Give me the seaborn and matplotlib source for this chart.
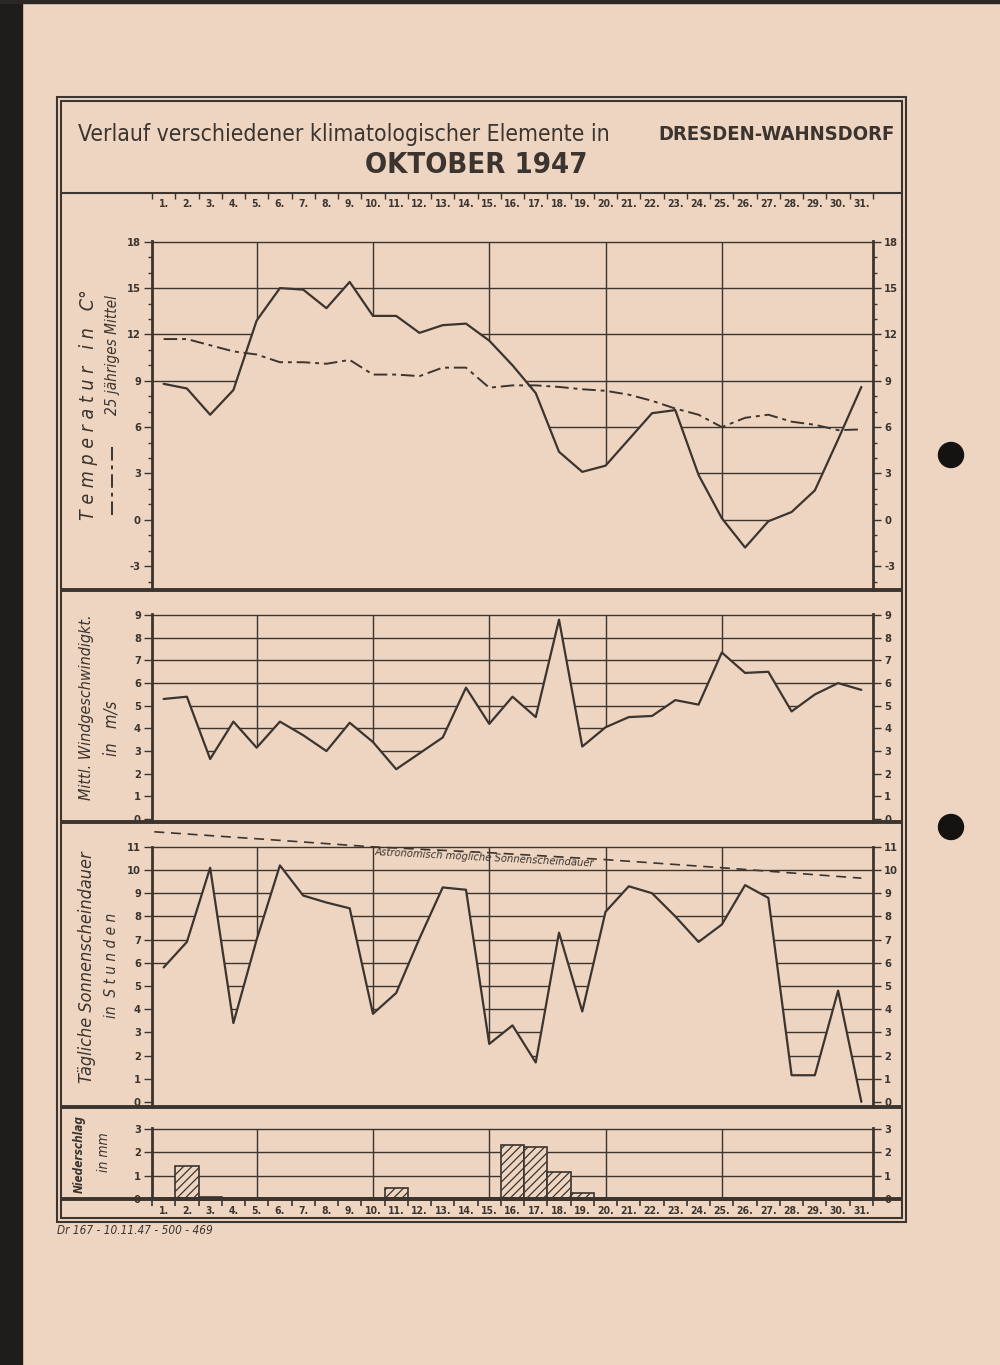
import numpy as np
import pandas as pd
import matplotlib
matplotlib.use("Agg")
import matplotlib.pyplot as plt
from matplotlib.patches import Polygon, Rectangle, Ellipse
from matplotlib.lines import Line2D
import seaborn as sns

# ---- data (Dresden-Wahnsdorf, October 1947) ----
days = list(range(1, 32))
temp = [8.8, 8.5, 6.8, 8.4, 12.9, 15.0, 14.9, 13.7, 15.4, 13.2, 13.2, 12.1, 12.6, 12.7, 11.6, 10.0,
        8.2, 4.4, 3.1, 3.5, 5.2, 6.9, 7.1, 2.9, 0.1, -1.8, -0.1, 0.5, 1.9, 5.2, 8.6]
temp_mean = [11.7, 11.7, 11.3, 10.9, 10.7, 10.2, 10.2, 10.1, 10.35, 9.4, 9.4, 9.3, 9.85, 9.85, 8.55, 8.7,
             8.7, 8.6, 8.45, 8.35, 8.1, 7.7, 7.2, 6.8, 6.0, 6.6, 6.8, 6.35, 6.15, 5.8, 5.85]
wind = [5.3, 5.4, 2.65, 4.3, 3.15, 4.3, 3.7, 3.0, 4.25, 3.4, 2.2, 2.9, 3.6, 5.8, 4.2, 5.4,
        4.5, 8.8, 3.2, 4.05, 4.5, 4.55, 5.25, 5.05, 7.35, 6.45, 6.5, 4.75, 5.5, 6.0, 5.7]
sun = [5.8, 6.9, 10.1, 3.4, 7.0, 10.2, 8.9, 8.6, 8.35, 3.8, 4.7, 7.05, 9.25, 9.15, 2.5, 3.3,
       1.7, 7.3, 3.9, 8.2, 9.3, 9.0, 8.0, 6.9, 7.65, 9.35, 8.8, 1.15, 1.15, 4.8, 0.0]
astro_days = [0.6, 5, 10, 15, 20, 25, 31]
astro_hours = [11.65, 11.35, 11.0, 10.75, 10.45, 10.1, 9.65]
precip = [0, 1.4, 0.1, 0, 0, 0, 0, 0, 0, 0, 0.45, 0, 0, 0, 0, 2.3,
          2.2, 1.15, 0.25, 0, 0, 0, 0, 0, 0, 0, 0, 0, 0, 0, 0]
grid_days = [5, 10, 15, 20, 25]
day_labels = [f"{d}." for d in days]

PAPER = "#eed5c1"
INK = "#3b342f"
W, H = 1000, 1365

sns.set_theme(style="ticks")
plt.rcParams["font.family"] = ["DejaVu Sans"]
plt.rcParams["font.stretch"] = "condensed"
plt.rcParams["hatch.color"] = INK
plt.rcParams["hatch.linewidth"] = 0.9


def rect(x0, y0, x1, y1):
    return [x0 / W, 1 - y1 / H, (x1 - x0) / W, (y1 - y0) / H]


def fig_line(fig, x0, y0, x1, y1, lw):
    fig.add_artist(Line2D([x0 / W, x1 / W], [1 - y0 / H, 1 - y1 / H],
                          transform=fig.transFigure, color=INK, lw=lw, solid_capstyle="butt"))


def fig_label(fig, x, y, s, size, **kw):
    fig.text(x / W, 1 - y / H, s, rotation=90, ha="center", va="center",
             fontsize=size, color=INK, style="italic", **kw)


def style_panel(ax, ticks, lo, hi, top=None):
    ax.set_facecolor("none")
    ax.set_xlim(0.5, 31.5)
    ax.set_ylim(lo, hi)
    ax.set_xlabel("")
    ax.set_ylabel("")
    ax.set_xticks([])
    ax.spines["top"].set_visible(False)
    ax.spines["bottom"].set_visible(False)
    for side in ["left", "right"]:
        ax.spines[side].set_color(INK)
        ax.spines[side].set_linewidth(2)
        if top is not None:
            ax.spines[side].set_bounds(lo, top)
    ax.set_yticks(ticks)
    ax.set_yticklabels([str(t) for t in ticks])
    ax.tick_params(axis="y", which="both", left=True, right=True, labelleft=True, labelright=True,
                   direction="out", color=INK, labelcolor=INK, labelsize=8, width=1, pad=2)
    ax.tick_params(axis="y", which="major", length=6)
    ax.tick_params(axis="y", which="minor", length=3)
    for t in ax.yaxis.get_major_ticks():
        t.label1.set_fontweight("bold")
        t.label2.set_fontweight("bold")


def grid_above_curve(ax, values, hlines, top, bottom):
    # the sheet only has its grid drawn above the curve
    verts = [(0.5, values[0])] + list(zip(days, values)) + [(31.5, values[-1]), (31.5, top + 5), (0.5, top + 5)]
    clip = Polygon(verts, closed=True, facecolor="none", edgecolor="none")
    ax.add_patch(clip)
    for h in hlines:
        ln = ax.axhline(h, color=INK, lw=1.0, zorder=1)
        ln.set_clip_path(clip)
    vl = ax.vlines(grid_days, bottom, top, color=INK, lw=1.0, zorder=1)
    vl.set_clip_path(clip)


fig = plt.figure(figsize=(W / 100, H / 100), dpi=100, facecolor=PAPER)

# scan edge and punch holes
fig.add_artist(Rectangle((0, 0), 22 / W, 1, transform=fig.transFigure, color="#1f1d1c", zorder=0))
fig.add_artist(Rectangle((0, 1 - 3 / H), 1, 3 / H, transform=fig.transFigure, color="#2a2725", zorder=0))
for hy in [455, 827]:
    fig.add_artist(Ellipse((951 / W, 1 - hy / H), 25 / W, 25 / H, transform=fig.transFigure, color="#151312"))

# frame
fig.add_artist(Rectangle((57 / W, 1 - 1222 / H), 849 / W, 1125 / H, transform=fig.transFigure,
                         fill=False, edgecolor=INK, lw=1.5))
fig.add_artist(Rectangle((61 / W, 1 - 1218 / H), 841 / W, 1117 / H, transform=fig.transFigure,
                         fill=False, edgecolor=INK, lw=1.5))
fig_line(fig, 61, 193, 902, 193, 1.5)
for yy in [590, 822, 1107, 1199]:
    fig_line(fig, 61, yy, 902, yy, 2.8)

# title
fig.text(78 / W, 1 - 135 / H, "Verlauf verschiedener klimatologischer Elemente in", fontsize=16.5,
         color=INK, ha="left", va="center", fontweight="normal")
fig.text(895 / W, 1 - 135 / H, "DRESDEN-WAHNSDORF", fontsize=14.5, color=INK, ha="right", va="center",
         fontweight="bold")
fig.text(476 / W, 1 - 165 / H, "OKTOBER 1947", fontsize=21, color=INK, ha="center", va="center",
         fontweight="bold")

# day strip under the title
ax_d = fig.add_axes(rect(152, 192, 873, 193))
ax_d.set_facecolor("none")
ax_d.set_xlim(0.5, 31.5)
ax_d.set_yticks([])
for s in ax_d.spines.values():
    s.set_visible(False)
ax_d.set_xticks(days)
ax_d.set_xticklabels(day_labels)
ax_d.set_xticks(np.arange(0.5, 32, 1), minor=True)
ax_d.tick_params(axis="x", which="major", length=0, pad=4, labelsize=7.5, labelcolor=INK)
ax_d.tick_params(axis="x", which="minor", length=4, width=1, color=INK, direction="out")
for lbl in ax_d.get_xticklabels():
    lbl.set_fontweight("bold")

# temperature
ax_t = fig.add_axes(rect(152, 241, 873, 590))
sns.lineplot(x=days, y=temp, ax=ax_t, color=INK, lw=1.6, zorder=3)
sns.lineplot(x=days, y=temp_mean, ax=ax_t, color=INK, lw=1.4, zorder=3)
ax_t.lines[-1].set_dashes((7, 2.5, 2, 2.5))
grid_above_curve(ax_t, temp, [18, 15, 12, 9, 6, 3, 0, -3], 18, -4.6)
style_panel(ax_t, [-3, 0, 3, 6, 9, 12, 15, 18], -4.55, 18.05)
ax_t.set_yticks(np.arange(-4, 19), minor=True)
ax_t.set_xticks([])

# wind speed
ax_w = fig.add_axes(rect(152, 614, 873, 822))
sns.lineplot(x=days, y=wind, ax=ax_w, color=INK, lw=1.6, zorder=3)
grid_above_curve(ax_w, wind, list(range(1, 10)), 9, -0.2)
style_panel(ax_w, list(range(0, 10)), -0.13, 9.05)

# sunshine
ax_s = fig.add_axes(rect(152, 826, 873, 1107))
sns.lineplot(x=days, y=sun, ax=ax_s, color=INK, lw=1.6, zorder=3)
sns.lineplot(x=astro_days, y=astro_hours, ax=ax_s, color=INK, lw=1.2, zorder=3)
ax_s.lines[-1].set_dashes((6, 4))
grid_above_curve(ax_s, sun, list(range(1, 12)), 11, -0.3)
style_panel(ax_s, list(range(0, 12)), -0.22, 11.9, top=11)
ax_s.text(10.1, 10.78, "Astronomisch mögliche Sonnenscheindauer", fontsize=8, style="italic",
          color=INK, ha="left", va="center", rotation=-3, rotation_mode="anchor", fontweight="normal")

# precipitation
ax_p = fig.add_axes(rect(152, 1128, 873, 1199))
for h in [1, 2, 3]:
    ax_p.axhline(h, color=INK, lw=1.0, zorder=1)
ax_p.vlines(grid_days, 0, 3, color=INK, lw=1.0, zorder=1)
sns.barplot(x=days, y=precip, ax=ax_p, native_scale=True, width=1.0, color=PAPER, saturation=1,
            edgecolor=INK, linewidth=1.2, hatch="////", errorbar=None, zorder=2)
style_panel(ax_p, [0, 1, 2, 3], 0, 3.03)
ax_p.spines["bottom"].set_visible(True)
ax_p.spines["bottom"].set_color(INK)
ax_p.spines["bottom"].set_linewidth(2.8)
ax_p.set_xticks(days)
ax_p.set_xticklabels(day_labels)
ax_p.set_xticks(np.arange(0.5, 32, 1), minor=True)
ax_p.set_xlim(0.5, 31.5)
ax_p.tick_params(axis="x", which="major", length=0, pad=5, labelsize=7.5, labelcolor=INK)
ax_p.tick_params(axis="x", which="minor", length=5, width=1.2, color=INK, direction="out")
for lbl in ax_p.get_xticklabels():
    lbl.set_fontweight("bold")

# left-hand panel captions
fig_label(fig, 88, 405, "T e m p e r a t u r   i n   C°", 14)
fig_label(fig, 112, 355, "25 jähriges Mittel", 11)
fig.add_artist(Line2D([112 / W, 112 / W], [1 - 447 / H, 1 - 515 / H], transform=fig.transFigure,
                      color=INK, lw=1.4, dashes=(7, 2.5, 2, 2.5)))
fig_label(fig, 87, 707, "Mittl. Windgeschwindigkt.", 11.5)
fig_label(fig, 112, 728, "in   m/s", 12)
fig_label(fig, 87, 967, "Tägliche Sonnenscheindauer", 13)
fig_label(fig, 112, 965, "in  S t u n d e n", 11)
fig_label(fig, 79, 1154, "Niederschlag", 8.5, fontweight="bold")
fig_label(fig, 104, 1152, "in mm", 10)

fig.text(57 / W, 1 - 1231 / H, "Dr 167 - 10.11.47 - 500 - 469", fontsize=8.5, style="italic",
         color=INK, ha="left", va="center", fontweight="normal")

fig.savefig("out.png", dpi=100, facecolor=PAPER)
